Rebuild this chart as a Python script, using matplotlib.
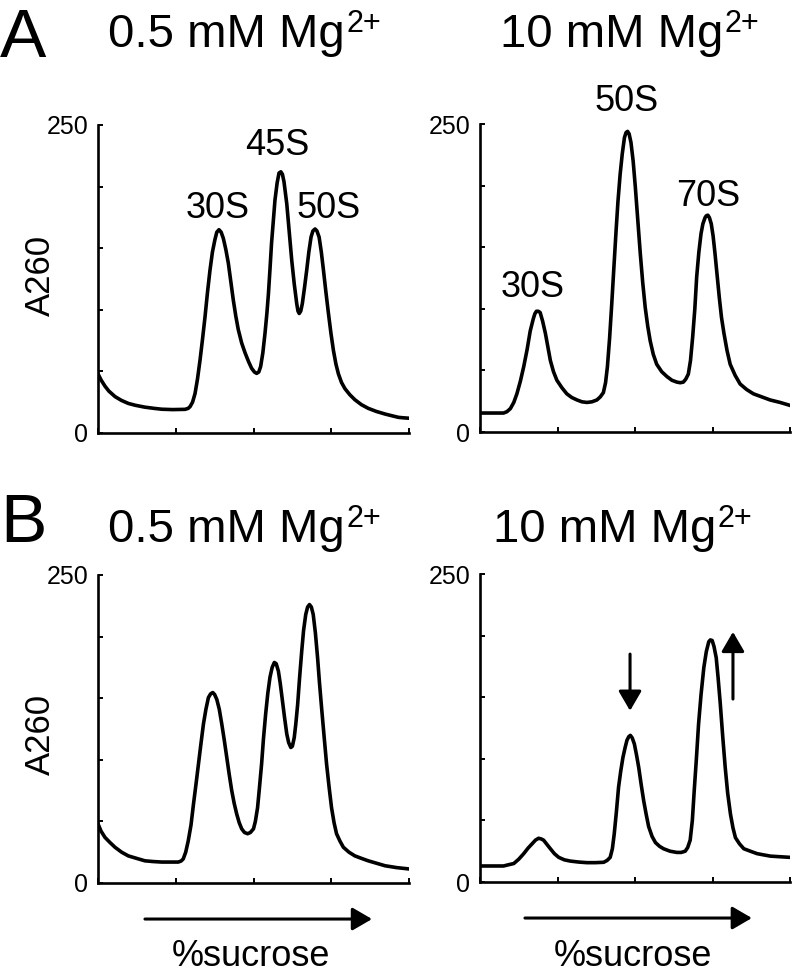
import numpy as np
from matplotlib import pyplot as plt

plt.rcParams['font.family'] = ['Liberation Sans', 'DejaVu Sans']

W, H = 797, 973

#%% profiles read off the gradients (x = position along gradient, 0-100; y = A260)
xA_lo = [0, 1, 2.25, 3.5, 5.5, 7.5, 9.75, 12, 15, 18,
         20.5, 24, 28, 29, 29.6, 30.4, 31.2, 32, 32.8, 33.6,
         34.4, 35.2, 36, 36.8, 37.6, 38.2, 38.9, 39.6, 40.3, 41.1,
         41.9, 42.7, 43.5, 44.3, 45.1, 46.2, 47.3, 48.4, 49.4, 50.3,
         51, 51.7, 52.3, 53, 53.7, 54.3, 54.8, 55.3, 55.8, 56.4,
         56.9, 57.6, 58.2, 58.8, 59.3, 59.8, 60.2, 60.7, 61.5, 62.3,
         63.1, 63.9, 64.3, 64.7, 65.2, 65.7, 66.4, 67.1, 67.8, 68.5,
         69.1, 69.8, 70.4, 71.1, 71.8, 72.5, 73.3, 74.1, 74.9, 75.7,
         76.5, 77.3, 78.3, 79.4, 81, 82.6, 84.7, 86.9, 89.5, 92.3,
         94.5, 96.6, 98.3, 100]
yA_lo = [48, 43, 38, 34, 29.5, 26.5, 24, 22.5, 21, 20,
         19.3, 19, 19.2, 20, 21.4, 25, 32, 44, 59, 76,
         94, 114, 132, 147, 157, 163, 165, 163, 158, 149,
         138, 123, 108, 95, 84, 73, 65, 58, 52.5, 49.5,
         48.4, 49.5, 54, 65, 81, 97, 113, 133, 154, 173,
         189, 203, 211, 212, 210, 204, 196, 186, 163, 140,
         121, 105, 99, 97, 99, 105, 118, 132, 147, 159,
         164, 165.6, 164, 159, 147, 132, 114, 97, 81, 67,
         56, 48, 41, 36, 31, 27, 23, 20, 17.5, 15.4,
         14, 12.7, 12.3, 12]

xA_hi = [0, 4, 7.6, 8.7, 9.8, 10.9, 11.9, 13, 14.1, 15.2,
         16.2, 17.2, 17.7, 18.2, 18.8, 19.4, 20.2, 21.1, 21.9, 22.7,
         23.7, 24.8, 26.4, 28, 29.6, 31.3, 32.9, 34.5, 36.1, 37.7,
         38.8, 39.8, 40.5, 41.1, 41.8, 42.5, 43.2, 43.9, 44.5, 45.2,
         45.9, 46.6, 47.1, 47.6, 48.1, 48.7, 49.4, 50.1, 50.9, 51.7,
         52.5, 53.3, 54.1, 54.9, 55.9, 57, 58.6, 60.3, 61.9, 63.5,
         64.6, 65.6, 66.4, 67.2, 67.9, 68.6, 69.3, 69.9, 70.6, 71.3,
         71.9, 72.6, 73, 73.5, 74, 74.6, 75.2, 75.8, 76.5, 77.2,
         77.9, 78.7, 79.7, 80.7, 82.3, 83.9, 86, 88.2, 90.9, 93.6,
         96.8, 100]
yA_hi = [15.4, 15.4, 15.4, 16.5, 19, 24, 31, 41, 53, 67,
         82, 92, 96, 98, 98, 97, 90, 80, 69, 58,
         49, 42, 36, 31, 28, 26, 24.5, 24, 24.5, 26,
         28.5, 32, 40, 53, 76, 104, 134, 163.5, 187, 209,
         226, 239, 243, 244, 242, 235, 220, 199, 172, 145,
         121, 101, 86, 74, 63, 55, 49, 45, 42, 40.5,
         40, 40.5, 43, 47, 58, 77, 100, 126, 146, 161,
         169, 174, 175.5, 176, 174, 169, 159, 145, 127, 109,
         93, 80, 66, 55, 46, 39, 34.5, 31, 28.5, 26,
         24, 21.6]

xB_lo = [0, 1, 2.25, 3.8, 5.47, 7.6, 9.75, 12.4, 15.1, 17.8,
         20.5, 23, 25.8, 26.7, 27.4, 28.2, 29, 29.9, 30.7, 31.5,
         32.3, 33.1, 33.9, 34.7, 35.5, 36.2, 36.9, 37.5, 38.2, 39,
         39.8, 40.6, 41.4, 42.2, 43, 43.8, 44.6, 45.4, 46.2, 47.1,
         48.1, 49, 50, 50.6, 51.3, 51.9, 52.6, 53.2, 53.9, 54.6,
         55.3, 56, 56.7, 57.3, 58, 58.6, 59.3, 60, 60.7, 61.3,
         62, 62.5, 63.1, 63.6, 64.2, 64.8, 65.5, 66.1, 66.8, 67.4,
         68, 68.6, 69.2, 69.9, 70.6, 71.2, 71.9, 72.7, 73.5, 74.3,
         75.1, 75.9, 76.7, 77.8, 78.9, 80.7, 82.6, 84.7, 86.9, 89.6,
         92.3, 96, 100]
yB_lo = [48, 42, 37, 33, 29, 25, 22, 20, 18, 17.4,
         17, 17, 17, 17.8, 19.5, 25, 34, 47, 64, 80,
         96.5, 113, 129, 141, 150.5, 153.5, 154.6, 153, 149, 141,
         129, 116, 102, 88, 75, 64.5, 56, 49, 44, 41,
         40, 41, 44, 50, 61, 77, 96.5, 117, 137, 154,
         167, 175, 179, 178, 172, 162, 148, 134, 121, 114,
         110, 111, 118, 129, 145, 166, 188, 205, 218, 224,
         226, 224, 218, 203, 183, 163, 142, 119, 96.5, 78,
         61, 49, 40, 34, 29, 25, 22, 20, 18, 16,
         14, 12.5, 11.4]

xB_hi = [0, 4, 7.6, 9.2, 10.9, 12.5, 14.1, 15.5, 16.8, 17.9,
         18.9, 19.7, 20.5, 21.6, 22.7, 24, 25.4, 27.2, 29.1, 31.8,
         34.5, 37.2, 39.9, 41, 42, 42.7, 43.3, 44, 44.7, 45.4,
         46.1, 46.8, 47.4, 48, 48.5, 49.1, 49.8, 50.5, 51.2, 52,
         52.8, 53.6, 54.4, 55.5, 56.6, 57.9, 59.2, 61.3, 63.5, 64.9,
         66.2, 67, 67.8, 68.5, 69.1, 69.8, 70.5, 71.3, 72.2, 73,
         73.8, 74.3, 74.9, 75.5, 76.2, 76.8, 77.5, 78.3, 79.1, 79.9,
         80.8, 81.6, 82.4, 83.7, 85.1, 87.2, 89.4, 91.5, 93.7, 96.8,
         100]
yB_hi = [13, 13, 13, 14, 15, 18.5, 23, 27.5, 31, 34,
         35.5, 35, 34, 30.5, 27, 23, 20, 18, 17, 16.2,
         15.7, 15.7, 16, 17.5, 20, 27, 39, 57, 77, 90,
         101, 109, 115, 118, 119, 117, 112, 103, 93, 79,
         66, 55, 45, 37, 32, 29, 27, 25, 24, 24,
         25, 28, 34, 50, 74, 100, 128, 152, 174, 187,
         195, 196.5, 196, 191, 182, 166, 145, 118, 93, 72,
         55, 44, 36, 31, 27, 25, 23, 22, 21, 20.5,
         20]

labels_A_lo = ['30S', '45S', '50S']
labpos_A_lo = [(38.6, 182), (57.6, 233), (74.0, 182)]
labels_A_hi = ['30S', '50S', '70S']
labpos_A_hi = [(17.1, 117), (47.4, 268), (73.5, 191)]


def px(x, y):
    return x / W, 1 - y / H


def panel(rect, x, y):
    ax = fig.add_axes(rect)
    ax.plot(x, y, color='k', lw=2.6, solid_joinstyle='round')
    ax.set_xlim(0, 100)
    ax.set_ylim(0, 250)
    for s in ['top', 'right']:
        ax.spines[s].set_visible(False)
    for s in ['left', 'bottom']:
        ax.spines[s].set_linewidth(1.9)
    ax.set_xticks([0, 25, 50, 75, 100])
    ax.set_xticklabels([])
    ax.set_yticks([0, 50, 100, 150, 200, 250])
    ax.set_yticklabels(['0', '', '', '', '', '250'])
    ax.tick_params(direction='in', length=3.5, width=1.4, labelsize=18, pad=7)
    return ax


def title(ax, x, y, s):
    t = fig.text(*px(x, y), s + ' Mg', fontsize=34, ha='left', va='baseline')
    ax.annotate('2+', xy=(1, 1), xycoords=t, xytext=(1, 3), textcoords='offset points',
                fontsize=22, ha='left', va='top', annotation_clip=False)


fig = plt.figure(figsize=(W / 100, H / 100), dpi=100)

axAl = panel([98 / W, 1 - 433 / H, 311 / W, 308 / H], xA_lo, yA_lo)
axAr = panel([480 / W, 1 - 432 / H, 310 / W, 308 / H], xA_hi, yA_hi)
axBl = panel([98 / W, 1 - 883 / H, 311 / W, 308 / H], xB_lo, yB_lo)
axBr = panel([480 / W, 1 - 882 / H, 310 / W, 308 / H], xB_hi, yB_hi)

for t, (lx, ly) in zip(labels_A_lo, labpos_A_lo):
    axAl.text(lx, ly, t, fontsize=26, ha='center', va='center')
for t, (lx, ly) in zip(labels_A_hi, labpos_A_hi):
    axAr.text(lx, ly, t, fontsize=26, ha='center', va='center', clip_on=False)

# panel letters and titles
fig.text(*px(0, 57), 'A', fontsize=50, ha='left', va='baseline')
fig.text(*px(0, 542), 'B', fontsize=50, ha='left', va='baseline')
title(axAl, 108, 47, '0.5 mM')
title(axAr, 500, 47, '10 mM')
title(axBl, 108, 542, '0.5 mM')
title(axBr, 493, 542, '10 mM')

fig.text(*px(40, 275), 'A260', fontsize=25, rotation=90, ha='center', va='center')
fig.text(*px(40, 734), 'A260', fontsize=25, rotation=90, ha='center', va='center')

# %sucrose arrows
arr = dict(arrowstyle='-|>,head_length=0.6,head_width=0.35', lw=2.2, color='k',
           shrinkA=0, shrinkB=0, mutation_scale=20)
for ax, x0, x1 in [(axBl, 0.151, 0.881), (axBr, 0.145, 0.877)]:
    ax.annotate('', xy=(x1, -0.117), xytext=(x0, -0.117), xycoords='axes fraction',
                arrowprops=arr, annotation_clip=False)
fig.text(*px(251, 966), '%sucrose', fontsize=26, ha='center', va='baseline')
fig.text(*px(633, 966), '%sucrose', fontsize=26, ha='center', va='baseline')

# change arrows on the 10 mM profile
axBr.annotate('', xy=(48.4, 139), xytext=(48.4, 185), arrowprops=arr, annotation_clip=False)
axBr.annotate('', xy=(81.6, 203), xytext=(81.6, 148.5), arrowprops=arr, annotation_clip=False)

fig.savefig('out.png', dpi=100)
